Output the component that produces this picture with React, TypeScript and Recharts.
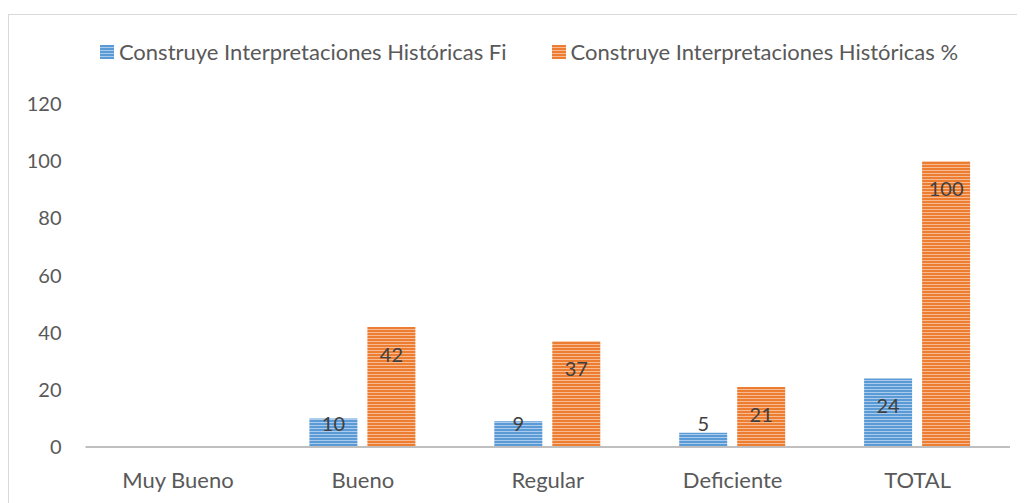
import React from "react";
import { BarChart, Bar, XAxis, YAxis, Legend, LabelList } from "recharts";

const categories = ["Muy Bueno", "Bueno", "Regular", "Deficiente", "TOTAL"];
const fiValues = [0, 10, 9, 5, 24];
const pctValues = [0, 42, 37, 21, 100];
const yTicks = [0, 20, 40, 60, 80, 100, 120];

const FI_NAME = "Construye Interpretaciones Históricas Fi";
const PCT_NAME = "Construye Interpretaciones Históricas %";

const data = categories.map((c, i) => ({ name: c, fi: fiValues[i], pct: pctValues[i] }));

const FONT = "Lato, 'Open Sans', sans-serif";

function BarLabel(props: any) {
  const { x, y, width, height, value } = props;
  if (!value) return null;
  const base = y + height;
  const cy = Math.min(y + 27, base - 24);
  return (
    <text
      x={x + width / 2}
      y={cy}
      textAnchor="middle"
      dominantBaseline="central"
      fill="#404040"
      fontSize={20}
      fontFamily={FONT}
    >
      {value}
    </text>
  );
}

function LegendContent() {
  const items = [
    { name: FI_NAME, fill: "url(#stripeBlue)" },
    { name: PCT_NAME, fill: "url(#stripeOrange)" },
  ];
  return (
    <div
      style={{
        display: "flex",
        justifyContent: "center",
        gap: 45,
        paddingLeft: 24,
        fontFamily: FONT,
      }}
    >
      {items.map((it) => (
        <div key={it.name} style={{ display: "flex", alignItems: "center" }}>
          <svg width={14} height={14} style={{ marginRight: 5 }}>
            <rect width={14} height={14} fill={it.fill} />
          </svg>
          <span style={{ color: "#595959", fontSize: 22 }}>{it.name}</span>
        </div>
      ))}
    </div>
  );
}

export default function App() {
  return (
    <div
      style={{
        marginTop: 6,
        width: 1018,
        height: 500,
        border: "1px solid #d9d9d9",
        borderRight: "none",
        borderBottom: "none",
        boxSizing: "border-box",
        background: "#fff",
      }}
    >
      <BarChart
        width={1016}
        height={488}
        data={data}
        margin={{ top: 89, right: 15, bottom: 0, left: 0 }}
        barGap={10}
        barSize={48}
      >
        <defs>
          <pattern id="stripeBlue" width={4} height={3} patternUnits="userSpaceOnUse">
            <rect width={4} height={3} fill="#aacbee" />
            <rect width={4} height={2} fill="#5b9bd5" />
          </pattern>
          <pattern id="stripeOrange" width={4} height={3} patternUnits="userSpaceOnUse">
            <rect width={4} height={3} fill="#f7bb93" />
            <rect width={4} height={2} fill="#ed7d31" />
          </pattern>
        </defs>
        <Legend
          verticalAlign="middle"
          align="center"
          layout="horizontal"
          wrapperStyle={{ top: 23, left: 0, width: 1016 }}
          content={<LegendContent />}
        />
        <XAxis
          dataKey="name"
          height={56}
          axisLine={{ stroke: "#bfbfbf", strokeWidth: 2 }}
          tickLine={false}
          tick={{ fill: "#595959", fontSize: 22, fontFamily: FONT }}
          tickMargin={19}
        />
        <YAxis
          domain={[0, 120]}
          ticks={yTicks}
          width={76.5}
          axisLine={false}
          tickLine={false}
          tick={{ fill: "#595959", fontSize: 20, fontFamily: FONT }}
          tickMargin={18}
        />
        <Bar dataKey="fi" name={FI_NAME} fill="url(#stripeBlue)" isAnimationActive={false}>
          <LabelList dataKey="fi" content={<BarLabel />} />
        </Bar>
        <Bar dataKey="pct" name={PCT_NAME} fill="url(#stripeOrange)" isAnimationActive={false}>
          <LabelList dataKey="pct" content={<BarLabel />} />
        </Bar>
      </BarChart>
    </div>
  );
}
